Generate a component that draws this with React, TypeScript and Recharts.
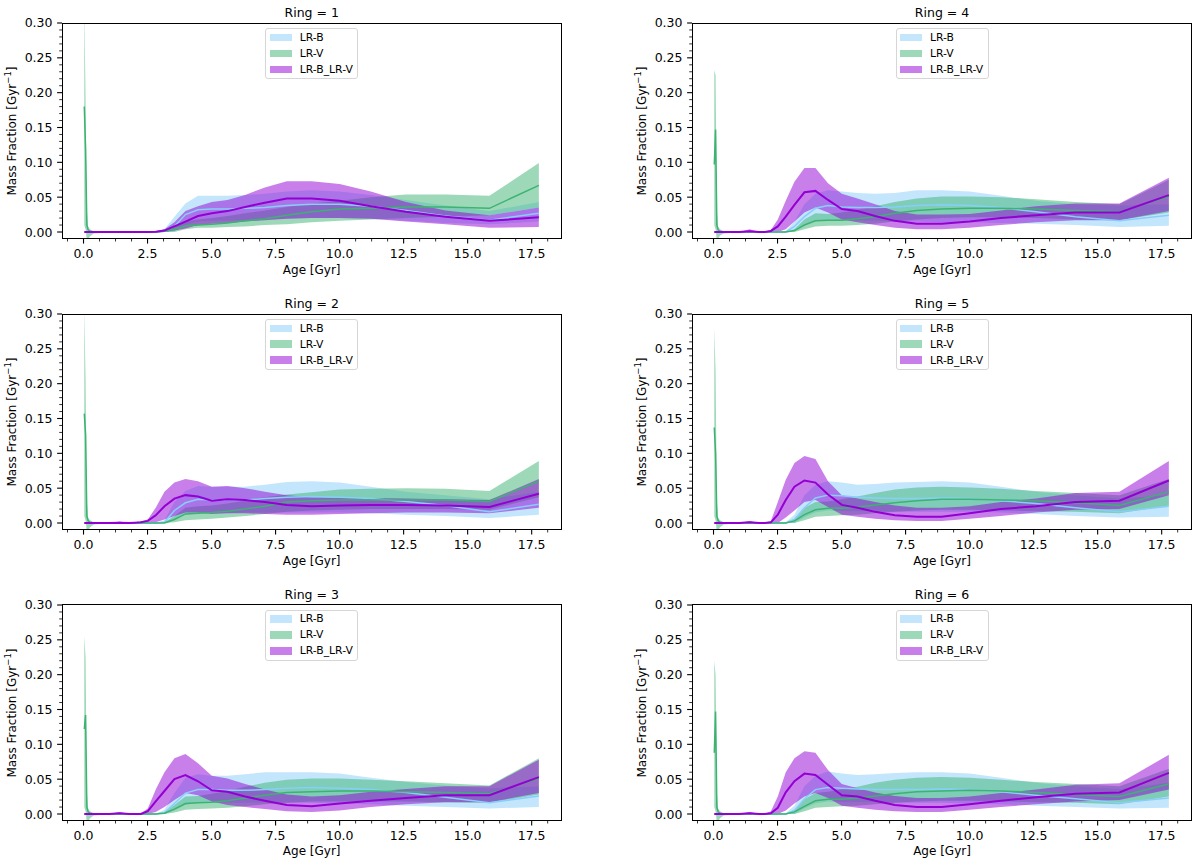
import React from "react";
import { ComposedChart, Area, Line, XAxis, YAxis } from "recharts";

// Age grid (Gyr) shared by every ring
const AGES = [
  0.03, 0.08, 0.13, 0.18, 0.25, 0.4, 1.0, 1.41, 1.78,
  2.0, 2.24, 2.51, 2.82, 3.16, 3.55, 3.98, 4.47, 5.01, 5.62,
  6.31, 7.08, 7.94, 8.91, 10.0, 11.22, 12.59, 14.13, 15.85, 17.78,
];

// Ring 1
const R1_B_LO = [0, 0, 0, 0, 0, 0, 0, 0, 0, 0, 0, 0, 0, 0, 0.001, 0.010, 0.015, 0.016, 0.016, 0.017, 0.018, 0.019, 0.020, 0.020, 0.019, 0.016, 0.013, 0.011, 0.015];
const R1_B_MID = [0, 0, 0, 0, 0, 0, 0, 0, 0, 0, 0, 0, 0, 0.001, 0.008, 0.025, 0.032, 0.033, 0.033, 0.034, 0.035, 0.038, 0.040, 0.040, 0.037, 0.031, 0.023, 0.017, 0.027];
const R1_B_HI = [0, 0, 0, 0, 0, 0, 0, 0, 0, 0, 0, 0, 0.001, 0.004, 0.022, 0.041, 0.052, 0.052, 0.052, 0.053, 0.055, 0.058, 0.060, 0.058, 0.053, 0.046, 0.038, 0.030, 0.043];
const R1_V_LO = [0.01, 0.004, -0.012, -0.012, -0.006, -0.002, 0, 0, 0, 0, 0, 0, 0, 0, 0, 0.004, 0.006, 0.006, 0.007, 0.008, 0.010, 0.011, 0.014, 0.016, 0.018, 0.020, 0.022, 0.024, 0.035];
const R1_V_MID = [0.18, 0.12, 0.01, 0.003, 0.001, 0, 0, 0, 0, 0, 0, 0, 0, 0.001, 0.004, 0.009, 0.010, 0.011, 0.013, 0.016, 0.019, 0.024, 0.029, 0.033, 0.034, 0.036, 0.036, 0.034, 0.067];
const R1_V_HI = [0.33, 0.19, 0.03, 0.008, 0.004, 0.001, 0, 0, 0, 0, 0, 0, 0.001, 0.003, 0.010, 0.015, 0.018, 0.020, 0.023, 0.027, 0.031, 0.036, 0.041, 0.045, 0.050, 0.054, 0.054, 0.052, 0.099];
const R1_P_LO = [0, 0, 0, 0, 0, 0, 0, 0, 0, 0, 0, 0, 0, 0, 0.002, 0.005, 0.010, 0.012, 0.013, 0.015, 0.017, 0.019, 0.020, 0.020, 0.019, 0.015, 0.011, 0.006, 0.007];
const R1_P_MID = [0, 0, 0, 0, 0, 0, 0, 0, 0, 0, 0, 0, 0.0005, 0.002, 0.008, 0.015, 0.023, 0.027, 0.030, 0.036, 0.042, 0.048, 0.048, 0.045, 0.037, 0.029, 0.022, 0.016, 0.021];
const R1_P_HI = [0, 0, 0, 0, 0, 0, 0, 0, 0, 0, 0, 0, 0.001, 0.004, 0.014, 0.030, 0.037, 0.043, 0.046, 0.053, 0.064, 0.073, 0.073, 0.069, 0.058, 0.043, 0.031, 0.024, 0.035];

// Ring 2
const R2_B_LO = [0, 0, 0, 0, 0, 0, 0, 0, 0, 0, 0, 0, 0, 0, 0.006, 0.012, 0.014, 0.014, 0.014, 0.015, 0.015, 0.015, 0.015, 0.015, 0.014, 0.012, 0.010, 0.007, 0.012];
const R2_B_MID = [0, 0, 0, 0, 0, 0, 0, 0, 0, 0, 0, 0, 0, 0.001, 0.018, 0.029, 0.034, 0.033, 0.033, 0.033, 0.035, 0.037, 0.038, 0.037, 0.035, 0.031, 0.025, 0.016, 0.027];
const R2_B_HI = [0, 0, 0, 0, 0, 0, 0, 0, 0, 0, 0, 0, 0, 0.004, 0.030, 0.046, 0.053, 0.052, 0.052, 0.052, 0.055, 0.059, 0.060, 0.058, 0.052, 0.045, 0.040, 0.034, 0.045];
const R2_V_LO = [0.01, 0.004, -0.012, -0.012, -0.006, -0.002, 0, 0, 0, 0, 0, 0, 0, 0, 0.001, 0.004, 0.005, 0.006, 0.008, 0.010, 0.013, 0.016, 0.018, 0.019, 0.020, 0.020, 0.020, 0.019, 0.037];
const R2_V_MID = [0.157, 0.127, 0.01, 0.003, 0.001, 0, 0, 0, 0, 0, 0, 0, 0, 0, 0.005, 0.013, 0.014, 0.015, 0.017, 0.020, 0.024, 0.030, 0.032, 0.033, 0.033, 0.033, 0.033, 0.031, 0.060];
const R2_V_HI = [0.31, 0.205, 0.03, 0.008, 0.004, 0.001, 0, 0, 0, 0, 0, 0, 0, 0.001, 0.010, 0.022, 0.024, 0.025, 0.028, 0.032, 0.037, 0.041, 0.044, 0.048, 0.049, 0.050, 0.049, 0.046, 0.089];
const R2_P_LO = [0, 0, 0, 0, 0, 0, 0, 0, 0, 0, 0, 0, 0.001, 0.005, 0.010, 0.015, 0.015, 0.013, 0.014, 0.014, 0.013, 0.012, 0.012, 0.013, 0.014, 0.015, 0.015, 0.014, 0.022];
const R2_P_MID = [0, 0, 0, 0, 0, 0, 0, 0.0005, 0, 0.0005, 0.001, 0.003, 0.011, 0.024, 0.035, 0.040, 0.038, 0.032, 0.034, 0.033, 0.030, 0.026, 0.024, 0.025, 0.026, 0.026, 0.025, 0.023, 0.042];
const R2_P_HI = [0, 0, 0, 0, 0, 0, 0, 0.002, 0, 0.001, 0.002, 0.005, 0.022, 0.045, 0.058, 0.063, 0.060, 0.052, 0.053, 0.050, 0.045, 0.040, 0.037, 0.036, 0.036, 0.035, 0.034, 0.033, 0.063];

// Ring 3
const R3_B_LO = [0, 0, 0, 0, 0, 0, 0, 0, 0, 0, 0, 0, 0, 0, 0.005, 0.013, 0.016, 0.016, 0.016, 0.016, 0.016, 0.016, 0.016, 0.015, 0.014, 0.012, 0.010, 0.008, 0.010];
const R3_B_MID = [0, 0, 0, 0, 0, 0, 0, 0, 0, 0, 0, 0, 0, 0.002, 0.015, 0.030, 0.035, 0.035, 0.034, 0.034, 0.035, 0.037, 0.038, 0.037, 0.035, 0.031, 0.024, 0.016, 0.026];
const R3_B_HI = [0, 0, 0, 0, 0, 0, 0, 0, 0, 0, 0, 0, 0, 0.006, 0.030, 0.052, 0.057, 0.055, 0.055, 0.057, 0.060, 0.060, 0.060, 0.058, 0.052, 0.046, 0.041, 0.037, 0.040];
const R3_V_LO = [0.01, 0.004, -0.012, -0.012, -0.006, -0.002, 0, 0, 0, 0, 0, 0, 0, 0, 0.002, 0.006, 0.007, 0.008, 0.009, 0.011, 0.014, 0.016, 0.018, 0.018, 0.018, 0.018, 0.017, 0.016, 0.028];
const R3_V_MID = [0.122, 0.142, 0.01, 0.003, 0.001, 0, 0, 0, 0, 0, 0, 0, 0, 0.001, 0.007, 0.015, 0.016, 0.017, 0.019, 0.023, 0.027, 0.031, 0.032, 0.033, 0.033, 0.032, 0.031, 0.029, 0.051];
const R3_V_HI = [0.255, 0.225, 0.03, 0.008, 0.004, 0.001, 0, 0, 0, 0, 0, 0, 0, 0.002, 0.013, 0.025, 0.026, 0.029, 0.033, 0.039, 0.045, 0.049, 0.051, 0.051, 0.049, 0.047, 0.044, 0.041, 0.080];
const R3_P_LO = [0, 0, 0, 0, 0, 0, 0, 0, 0, 0, 0, 0, 0.003, 0.010, 0.020, 0.030, 0.027, 0.018, 0.013, 0.010, 0.007, 0.004, 0.003, 0.005, 0.010, 0.014, 0.017, 0.017, 0.030];
const R3_P_MID = [0, 0, 0, 0, 0, 0, 0, 0.001, 0, 0, 0, 0.004, 0.018, 0.033, 0.050, 0.056, 0.047, 0.034, 0.032, 0.025, 0.019, 0.013, 0.011, 0.015, 0.019, 0.023, 0.027, 0.027, 0.053];
const R3_P_HI = [0, 0, 0, 0, 0, 0, 0, 0.003, 0, 0, 0.001, 0.008, 0.035, 0.060, 0.080, 0.086, 0.073, 0.055, 0.051, 0.043, 0.035, 0.028, 0.025, 0.027, 0.032, 0.036, 0.040, 0.040, 0.078];

// Ring 4
const R4_B_LO = [0, 0, 0, 0, 0, 0, 0, 0, 0, 0, 0, 0, 0, 0.002, 0.010, 0.015, 0.017, 0.016, 0.016, 0.016, 0.015, 0.015, 0.014, 0.014, 0.013, 0.012, 0.010, 0.007, 0.009];
const R4_B_MID = [0, 0, 0, 0, 0, 0, 0, 0, 0, 0, 0, 0, 0, 0.008, 0.022, 0.034, 0.038, 0.036, 0.035, 0.035, 0.036, 0.038, 0.039, 0.038, 0.035, 0.029, 0.022, 0.016, 0.024];
const R4_B_HI = [0, 0, 0, 0, 0, 0, 0, 0, 0, 0, 0, 0, 0.001, 0.015, 0.040, 0.055, 0.060, 0.058, 0.056, 0.055, 0.056, 0.060, 0.060, 0.058, 0.052, 0.045, 0.040, 0.038, 0.040];
const R4_V_LO = [0.01, 0.004, -0.012, -0.01, -0.005, -0.002, 0, 0, 0, 0, 0, 0, 0, 0, 0.004, 0.008, 0.009, 0.009, 0.010, 0.012, 0.015, 0.018, 0.020, 0.021, 0.021, 0.020, 0.018, 0.017, 0.028];
const R4_V_MID = [0.097, 0.147, 0.01, 0.003, 0.001, 0, 0, 0, 0, 0, 0, 0, 0, 0.002, 0.010, 0.016, 0.017, 0.017, 0.019, 0.022, 0.027, 0.031, 0.033, 0.034, 0.034, 0.033, 0.031, 0.029, 0.051];
const R4_V_HI = [0.232, 0.225, 0.03, 0.008, 0.004, 0.001, 0, 0, 0, 0, 0, 0, 0, 0.004, 0.018, 0.027, 0.026, 0.028, 0.032, 0.037, 0.043, 0.048, 0.051, 0.051, 0.050, 0.047, 0.043, 0.040, 0.075];
const R4_P_LO = [0, 0, 0, 0, 0, 0, 0, 0, 0, 0, 0, 0, 0.004, 0.015, 0.028, 0.035, 0.028, 0.018, 0.014, 0.010, 0.006, 0.004, 0.004, 0.006, 0.010, 0.014, 0.017, 0.017, 0.030];
const R4_P_MID = [0, 0, 0, 0, 0, 0, 0, 0.001, 0, 0, 0.0015, 0.008, 0.022, 0.039, 0.057, 0.059, 0.046, 0.033, 0.030, 0.023, 0.016, 0.012, 0.012, 0.015, 0.020, 0.024, 0.028, 0.028, 0.053];
const R4_P_HI = [0, 0, 0, 0, 0, 0, 0, 0.004, 0, 0.0005, 0.003, 0.018, 0.045, 0.072, 0.092, 0.092, 0.070, 0.055, 0.048, 0.040, 0.030, 0.025, 0.025, 0.026, 0.031, 0.037, 0.041, 0.041, 0.078];

// Ring 5
const R5_B_LO = [0, 0, 0, 0, 0, 0, 0, 0, 0, 0, 0, 0, 0, 0, 0.008, 0.015, 0.018, 0.017, 0.017, 0.017, 0.016, 0.016, 0.016, 0.016, 0.015, 0.013, 0.010, 0.008, 0.009];
const R5_B_MID = [0, 0, 0, 0, 0, 0, 0, 0, 0, 0, 0, 0, 0, 0.005, 0.022, 0.036, 0.040, 0.039, 0.037, 0.036, 0.035, 0.035, 0.036, 0.035, 0.032, 0.028, 0.022, 0.016, 0.024];
const R5_B_HI = [0, 0, 0, 0, 0, 0, 0, 0, 0, 0, 0, 0, 0.001, 0.012, 0.040, 0.055, 0.060, 0.058, 0.055, 0.056, 0.058, 0.059, 0.060, 0.058, 0.052, 0.045, 0.040, 0.035, 0.040];
const R5_V_LO = [0.01, 0.004, -0.012, -0.012, -0.006, -0.002, 0, 0, 0, 0, 0, 0, 0, 0, 0.004, 0.009, 0.010, 0.011, 0.012, 0.014, 0.016, 0.018, 0.019, 0.019, 0.018, 0.017, 0.016, 0.014, 0.025];
const R5_V_MID = [0.137, 0.10, 0.01, 0.003, 0.001, 0, 0, 0, 0, 0, 0, 0, 0, 0.003, 0.012, 0.019, 0.021, 0.021, 0.023, 0.026, 0.029, 0.032, 0.034, 0.034, 0.033, 0.032, 0.029, 0.025, 0.045];
const R5_V_HI = [0.28, 0.218, 0.03, 0.008, 0.004, 0.001, 0, 0, 0, 0, 0, 0, 0, 0.006, 0.022, 0.030, 0.031, 0.034, 0.038, 0.043, 0.048, 0.051, 0.052, 0.051, 0.049, 0.046, 0.043, 0.040, 0.063];
const R5_P_LO = [0, 0, 0, 0, 0, 0, 0, 0, 0, 0, 0, 0, 0.008, 0.018, 0.030, 0.033, 0.023, 0.012, 0.009, 0.006, 0.004, 0.003, 0.003, 0.006, 0.010, 0.015, 0.019, 0.020, 0.040];
const R5_P_MID = [0, 0, 0, 0, 0, 0, 0, 0.001, 0, 0, 0.001, 0.012, 0.033, 0.052, 0.061, 0.058, 0.041, 0.026, 0.022, 0.016, 0.011, 0.009, 0.009, 0.014, 0.020, 0.024, 0.030, 0.032, 0.061];
const R5_P_HI = [0, 0, 0, 0, 0, 0, 0, 0.003, 0, 0.0005, 0.003, 0.030, 0.062, 0.086, 0.096, 0.092, 0.060, 0.040, 0.035, 0.030, 0.025, 0.022, 0.022, 0.024, 0.030, 0.035, 0.043, 0.045, 0.089];

// Ring 6
const R6_B_LO = [0, 0, 0, 0, 0, 0, 0, 0, 0, 0, 0, 0, 0, 0, 0.008, 0.015, 0.018, 0.017, 0.017, 0.017, 0.016, 0.016, 0.016, 0.015, 0.014, 0.012, 0.010, 0.008, 0.009];
const R6_B_MID = [0, 0, 0, 0, 0, 0, 0, 0, 0, 0, 0, 0, 0, 0.005, 0.022, 0.035, 0.038, 0.037, 0.036, 0.035, 0.035, 0.035, 0.036, 0.035, 0.032, 0.027, 0.022, 0.016, 0.023];
const R6_B_HI = [0, 0, 0, 0, 0, 0, 0, 0, 0, 0, 0, 0, 0.001, 0.012, 0.040, 0.055, 0.061, 0.058, 0.056, 0.057, 0.059, 0.060, 0.060, 0.058, 0.052, 0.045, 0.040, 0.036, 0.045];
const R6_V_LO = [0.01, 0.004, -0.012, -0.012, -0.006, -0.002, 0, 0, 0, 0, 0, 0, 0, 0, 0.004, 0.009, 0.010, 0.011, 0.012, 0.014, 0.016, 0.018, 0.019, 0.019, 0.018, 0.017, 0.016, 0.014, 0.025];
const R6_V_MID = [0.088, 0.147, 0.01, 0.003, 0.001, 0, 0, 0, 0, 0, 0, 0, 0, 0.003, 0.011, 0.019, 0.021, 0.021, 0.023, 0.026, 0.029, 0.032, 0.033, 0.034, 0.033, 0.031, 0.028, 0.025, 0.043];
const R6_V_HI = [0.22, 0.20, 0.03, 0.008, 0.004, 0.001, 0, 0, 0, 0, 0, 0, 0, 0.006, 0.021, 0.030, 0.032, 0.035, 0.039, 0.045, 0.049, 0.052, 0.053, 0.052, 0.049, 0.046, 0.043, 0.040, 0.065];
const R6_P_LO = [0, 0, 0, 0, 0, 0, 0, 0, 0, 0, 0, 0, 0.005, 0.015, 0.025, 0.030, 0.023, 0.012, 0.009, 0.006, 0.004, 0.003, 0.003, 0.006, 0.010, 0.014, 0.018, 0.020, 0.035];
const R6_P_MID = [0, 0, 0, 0, 0, 0, 0, 0.001, 0, 0, 0.001, 0.009, 0.031, 0.047, 0.058, 0.056, 0.042, 0.027, 0.025, 0.019, 0.013, 0.010, 0.010, 0.014, 0.019, 0.024, 0.029, 0.031, 0.059];
const R6_P_HI = [0, 0, 0, 0, 0, 0, 0, 0.003, 0, 0.0005, 0.004, 0.025, 0.060, 0.080, 0.090, 0.088, 0.063, 0.043, 0.037, 0.031, 0.026, 0.023, 0.023, 0.025, 0.030, 0.035, 0.042, 0.044, 0.085];

const SERIES_NAMES = ["LR-B", "LR-V", "LR-B_LR-V"];
const COLORS = ["#87CEFA", "#3CB371", "#9400D3"];

const X_MAJOR = [0, 2.5, 5, 7.5, 10, 12.5, 15, 17.5];
const Y_MAJOR = [0, 0.05, 0.1, 0.15, 0.2, 0.25, 0.3];
const X_TICKS = Array.from({ length: 31 }, (_, i) => -0.625 + i * 0.625);
const Y_TICKS = Array.from({ length: 31 }, (_, i) => i * 0.01);

const X_DOMAIN: [number, number] = [-0.84, 18.66];
const Y_DOMAIN: [number, number] = [-0.0096, 0.3];

const FONT = "'DejaVu Sans', sans-serif";
const PW = 499.4;
const PH = 215.7;
const TOP_PAD = 15;

const isMajor = (v: number, list: number[]) => list.some((m) => Math.abs(m - v) < 1e-6);

function XTick({ x, y, payload }: any) {
  const v = payload?.value as number;
  const major = isMajor(v, X_MAJOR);
  return (
    <g>
      <line x1={x} x2={x} y1={y} y2={y + (major ? 4.9 : 2.8)} stroke="#000" strokeWidth={major ? 1.1 : 0.8} />
      {major && (
        <text x={x} y={y + 15} textAnchor="middle" dominantBaseline="central" fontSize={12.5} fontFamily={FONT} fill="#000">
          {v.toFixed(1)}
        </text>
      )}
    </g>
  );
}

function YTick({ x, y, payload }: any) {
  const v = payload?.value as number;
  const major = isMajor(v, Y_MAJOR);
  return (
    <g>
      <line x1={x} x2={x - (major ? 4.9 : 2.8)} y1={y} y2={y} stroke="#000" strokeWidth={major ? 1.1 : 0.8} />
      {major && (
        <text x={x - 9.5} y={y} textAnchor="end" dominantBaseline="central" fontSize={12.5} fontFamily={FONT} fill="#000">
          {v.toFixed(2)}
        </text>
      )}
    </g>
  );
}

type Band = { lo: number[]; mid: number[]; hi: number[] };

function Panel({ ring, left, top, b, v, p }: { ring: number; left: number; top: number; b: Band; v: Band; p: Band }) {
  const data = AGES.map((age, i) => ({
    age,
    bRange: [b.lo[i], b.hi[i]],
    bMid: b.mid[i],
    vRange: [v.lo[i], v.hi[i]],
    vMid: v.mid[i],
    pRange: [p.lo[i], p.hi[i]],
    pMid: p.mid[i],
  }));
  const cx = left + PW / 2;
  const label: React.CSSProperties = { position: "absolute", fontFamily: FONT, whiteSpace: "nowrap", color: "#000" };

  return (
    <>
      <div style={{ position: "absolute", left: left - 60, top: top - TOP_PAD }}>
        <ComposedChart width={PW + 70} height={PH + 35 + TOP_PAD} data={data} margin={{ top: TOP_PAD, right: 10, bottom: 0, left: 0 }}>
          <XAxis
            dataKey="age"
            type="number"
            domain={X_DOMAIN}
            allowDataOverflow
            ticks={X_TICKS}
            interval={0}
            tick={<XTick />}
            tickLine={false}
            axisLine={false}
            tickSize={0}
            tickMargin={0}
            height={35}
          />
          <YAxis
            type="number"
            domain={Y_DOMAIN}
            allowDataOverflow
            ticks={Y_TICKS}
            interval={0}
            tick={<YTick />}
            tickLine={false}
            axisLine={false}
            tickSize={0}
            tickMargin={0}
            width={60}
          />
          <Area type="linear" dataKey="bRange" stroke="none" fill={COLORS[0]} fillOpacity={0.5} dot={false} activeDot={false} isAnimationActive={false} />
          <Area type="linear" dataKey="vRange" stroke="none" fill={COLORS[1]} fillOpacity={0.5} dot={false} activeDot={false} isAnimationActive={false} />
          <Area type="linear" dataKey="pRange" stroke="none" fill={COLORS[2]} fillOpacity={0.5} dot={false} activeDot={false} isAnimationActive={false} />
          <Line type="linear" dataKey="bMid" stroke={COLORS[0]} strokeWidth={1.5} dot={false} activeDot={false} isAnimationActive={false} />
          <Line type="linear" dataKey="vMid" stroke={COLORS[1]} strokeWidth={1.5} dot={false} activeDot={false} isAnimationActive={false} />
          <Line type="linear" dataKey="pMid" stroke={COLORS[2]} strokeWidth={2} dot={false} activeDot={false} isAnimationActive={false} />
        </ComposedChart>
      </div>

      {/* axes frame */}
      <div
        style={{
          position: "absolute",
          left: left - 0.5,
          top: top - 0.5,
          width: PW + 1,
          height: PH + 1,
          border: "1.1px solid #000",
          boxSizing: "border-box",
          pointerEvents: "none",
        }}
      />

      <div style={{ ...label, left: cx, top: top - 11, transform: "translate(-50%, -50%)", fontSize: 12.5 }}>
        Ring = {ring}
      </div>
      <div style={{ ...label, left: cx, top: top + PH + 31, transform: "translate(-50%, -50%)", fontSize: 12 }}>
        Age [Gyr]
      </div>
      <div
        style={{
          ...label,
          left: left - 50.3,
          top: top + PH / 2,
          transform: "translate(-50%, -50%) rotate(-90deg)",
          fontSize: 12,
        }}
      >
        Mass Fraction [Gyr<sup style={{ fontSize: 8.5, verticalAlign: "5px", lineHeight: 0 }}>−1</sup>]
      </div>

      {/* legend */}
      <div
        style={{
          position: "absolute",
          left: cx - 46.5,
          top: top + 5,
          width: 93,
          height: 51,
          border: "1px solid #d6d6d6",
          borderRadius: 3,
          background: "rgba(255,255,255,0.8)",
          boxSizing: "border-box",
        }}
      >
        {SERIES_NAMES.map((name, i) => {
          const rowY = 8.7 + i * 15.9;
          return (
            <React.Fragment key={name}>
              <div
                style={{
                  position: "absolute",
                  left: 3.5,
                  top: rowY - 4.2,
                  width: 22,
                  height: 7.6,
                  background: COLORS[i],
                  opacity: 0.5,
                }}
              />
              <div
                style={{
                  ...label,
                  left: 33.5,
                  top: rowY,
                  transform: "translateY(-50%)",
                  fontSize: 10.8,
                  lineHeight: 1,
                }}
              >
                {name}
              </div>
            </React.Fragment>
          );
        })}
      </div>
    </>
  );
}

const COL_LEFT = [62, 692.3];
const ROW_TOP = [23.3, 314, 604.7];

export default function App() {
  return (
    <div style={{ position: "absolute", left: 0, top: 0, width: 1200, height: 865, background: "#fff", overflow: "hidden" }}>
      <Panel ring={1} left={COL_LEFT[0]} top={ROW_TOP[0]} b={{ lo: R1_B_LO, mid: R1_B_MID, hi: R1_B_HI }} v={{ lo: R1_V_LO, mid: R1_V_MID, hi: R1_V_HI }} p={{ lo: R1_P_LO, mid: R1_P_MID, hi: R1_P_HI }} />
      <Panel ring={2} left={COL_LEFT[0]} top={ROW_TOP[1]} b={{ lo: R2_B_LO, mid: R2_B_MID, hi: R2_B_HI }} v={{ lo: R2_V_LO, mid: R2_V_MID, hi: R2_V_HI }} p={{ lo: R2_P_LO, mid: R2_P_MID, hi: R2_P_HI }} />
      <Panel ring={3} left={COL_LEFT[0]} top={ROW_TOP[2]} b={{ lo: R3_B_LO, mid: R3_B_MID, hi: R3_B_HI }} v={{ lo: R3_V_LO, mid: R3_V_MID, hi: R3_V_HI }} p={{ lo: R3_P_LO, mid: R3_P_MID, hi: R3_P_HI }} />
      <Panel ring={4} left={COL_LEFT[1]} top={ROW_TOP[0]} b={{ lo: R4_B_LO, mid: R4_B_MID, hi: R4_B_HI }} v={{ lo: R4_V_LO, mid: R4_V_MID, hi: R4_V_HI }} p={{ lo: R4_P_LO, mid: R4_P_MID, hi: R4_P_HI }} />
      <Panel ring={5} left={COL_LEFT[1]} top={ROW_TOP[1]} b={{ lo: R5_B_LO, mid: R5_B_MID, hi: R5_B_HI }} v={{ lo: R5_V_LO, mid: R5_V_MID, hi: R5_V_HI }} p={{ lo: R5_P_LO, mid: R5_P_MID, hi: R5_P_HI }} />
      <Panel ring={6} left={COL_LEFT[1]} top={ROW_TOP[2]} b={{ lo: R6_B_LO, mid: R6_B_MID, hi: R6_B_HI }} v={{ lo: R6_V_LO, mid: R6_V_MID, hi: R6_V_HI }} p={{ lo: R6_P_LO, mid: R6_P_MID, hi: R6_P_HI }} />
    </div>
  );
}
